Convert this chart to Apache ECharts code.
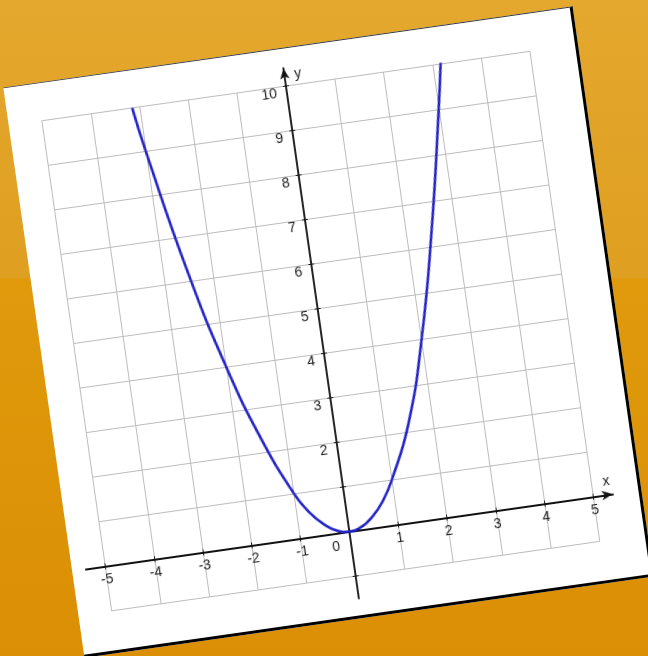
<!DOCTYPE html>
<html lang="en">
<head>
    <meta charset="UTF-8">
    <title>y = x^2</title>
    <script src="https://cdn.jsdelivr.net/npm/echarts@6/dist/echarts.min.js"></script>
    <style>
        html, body {
            margin: 0;
            padding: 0;
            width: 648px;
            height: 656px;
            overflow: hidden;
        }
        body {
            background: linear-gradient(to bottom,
                #e4a82e 0px, #df9f20 278px,
                #e09a0c 278px, #db8f04 656px);
        }
        /* the sheet of paper, tilted */
        #paper {
            position: absolute;
            left: 41px;
            top: 44px;
            width: 572px;
            height: 572px;
            background: #fff;
            border-top: 1px solid #3a3a3a;
            border-right: 3px solid #000;
            border-bottom: 3px solid #000;
            transform: rotate(-8.1deg);
        }
        #main {
            position: absolute;
            left: 0;
            top: 0;
            width: 572px;
            height: 572px;
        }
    </style>
</head>
<body>

<div id="paper">
    <div id="main"></div>
</div>

<script>
    // points
    var curveX = [-3.15, -3, -2.5, -2, -1.5, -1, -0.75, -0.5, -0.25, 0, 0.25, 0.5, 0.75, 1, 1.5, 2, 2.5, 3, 3.2];
    var curveY = [10, 9, 6.2, 4, 2.3, 1, 0.55, 0.25, 0.06, 0, 0.06, 0.25, 0.55, 1, 2.2, 4, 6.3, 9, 10.2];

    // tick labels that are printed
    var xLabels = [-5, -4, -3, -2, -1, 0, 1, 2, 3, 4, 5];
    var yLabels = [2, 3, 4, 5, 6, 7, 8, 9, 10];

    var points = [];
    for (var i = 0; i < curveX.length; i++) {
        points.push([curveX[i], curveY[i]]);
    }

    var ink = '#111';
    var textColor = '#1c1c1c';
    var font = 'Liberation Sans';
    var unitX = 49.3, unitY = 45;      // px per unit
    var left0 = 33.5, top0 = 37.5;     // where x=-5, y=10 sits

    var off = {show: false};
    var tick = function (inside) {
        return {show: true, inside: inside, length: 3, lineStyle: {color: ink, width: 1}};
    };

    var option = {
        animation: false,
        grid: [
            // 0: squared paper, x -5..5, y -1..10
            {left: left0, top: top0, width: 10 * unitX, height: 11 * unitY},
            // 1: axis lines run a bit past the squares
            {left: left0 - 0.4 * unitX, top: top0 - 0.4 * unitY, width: 10.8 * unitX, height: 11.9 * unitY},
            // 2: bottom edge on y=0, carries the x ticks and labels
            {left: left0, top: top0, width: 10 * unitX, height: 10 * unitY},
            // 3: left edge on x=0, carries the y ticks and labels
            {left: left0 + 5 * unitX, top: top0, width: 5 * unitX, height: 11 * unitY}
        ],
        xAxis: [
            {
                gridIndex: 0, type: 'value', min: -5, max: 5, interval: 1,
                axisLine: off, axisTick: off, axisLabel: off,
                splitLine: {show: true, lineStyle: {color: '#bcbcbc', width: 1}}
            },
            {
                gridIndex: 1, type: 'value', min: -5.4, max: 5.4,
                axisLine: {
                    show: true, onZero: true,
                    symbol: ['none', 'arrow'], symbolSize: [7, 11],
                    lineStyle: {color: ink, width: 1.8}
                },
                axisTick: off, axisLabel: off, splitLine: off,
                name: 'x',
                nameLocation: 'end',
                nameGap: -5,
                nameTextStyle: {
                    color: textColor, fontSize: 14, fontFamily: font,
                    align: 'center', verticalAlign: 'bottom', padding: [0, 0, 6, 0]
                }
            },
            {
                gridIndex: 2, type: 'value', min: -5, max: 5, interval: 1, position: 'bottom',
                axisLine: {show: false, onZero: false},
                axisTick: tick(false),
                axisLabel: {
                    margin: 7,
                    color: textColor,
                    fontSize: 14,
                    fontFamily: font,
                    formatter: function (v) {
                        if (xLabels.indexOf(v) < 0) return '';
                        if (v === 0) return '{z|0}';
                        return String(v);
                    },
                    rich: {z: {padding: [0, 30, 0, 0], fontSize: 14, fontFamily: font, color: textColor}}
                },
                splitLine: off
            },
            {
                gridIndex: 2, type: 'value', min: -5, max: 5, interval: 1, position: 'bottom',
                axisLine: {show: false, onZero: false},
                axisTick: tick(true), axisLabel: off, splitLine: off
            },
            {
                gridIndex: 3, type: 'value', min: 0, max: 5, interval: 1,
                axisLine: {show: false, onZero: false}, axisTick: off, axisLabel: off, splitLine: off
            }
        ],
        yAxis: [
            {
                gridIndex: 0, type: 'value', min: -1, max: 10, interval: 1,
                axisLine: off, axisTick: off, axisLabel: off,
                splitLine: {show: true, lineStyle: {color: '#bcbcbc', width: 1}}
            },
            {
                gridIndex: 1, type: 'value', min: -1.5, max: 10.4,
                axisLine: {
                    show: true, onZero: true,
                    symbol: ['none', 'arrow'], symbolSize: [7, 11],
                    lineStyle: {color: ink, width: 1.8}
                },
                axisTick: off, axisLabel: off, splitLine: off,
                name: 'y',
                nameLocation: 'end',
                nameGap: -8,
                nameTextStyle: {
                    color: textColor, fontSize: 14, fontFamily: font,
                    align: 'left', verticalAlign: 'middle', padding: [0, 0, 0, 10]
                }
            },
            {
                gridIndex: 2, type: 'value', min: 0, max: 10, interval: 1,
                axisLine: {show: false, onZero: false}, axisTick: off, axisLabel: off, splitLine: off
            },
            {
                gridIndex: 3, type: 'value', min: -1, max: 10, interval: 1, position: 'left',
                axisLine: {show: false, onZero: false},
                axisTick: tick(false),
                axisLabel: {
                    margin: 10,
                    color: textColor,
                    fontSize: 14,
                    fontFamily: font,
                    verticalAlign: 'top',
                    formatter: function (v) {
                        return yLabels.indexOf(v) < 0 ? '' : String(v);
                    }
                },
                splitLine: off
            },
            {
                gridIndex: 3, type: 'value', min: -1, max: 10, interval: 1, position: 'left',
                axisLine: {show: false, onZero: false},
                axisTick: tick(true), axisLabel: off, splitLine: off
            }
        ],
        series: [
            {
                type: 'line',
                xAxisIndex: 0,
                yAxisIndex: 0,
                data: points,
                smooth: true,
                showSymbol: false,
                z: 5,
                lineStyle: {color: '#2424c6', width: 2.6}
            }
        ]
    };

    var myChart = echarts.init(document.getElementById('main'));
    myChart.setOption(option);
</script>

</body>
</html>
